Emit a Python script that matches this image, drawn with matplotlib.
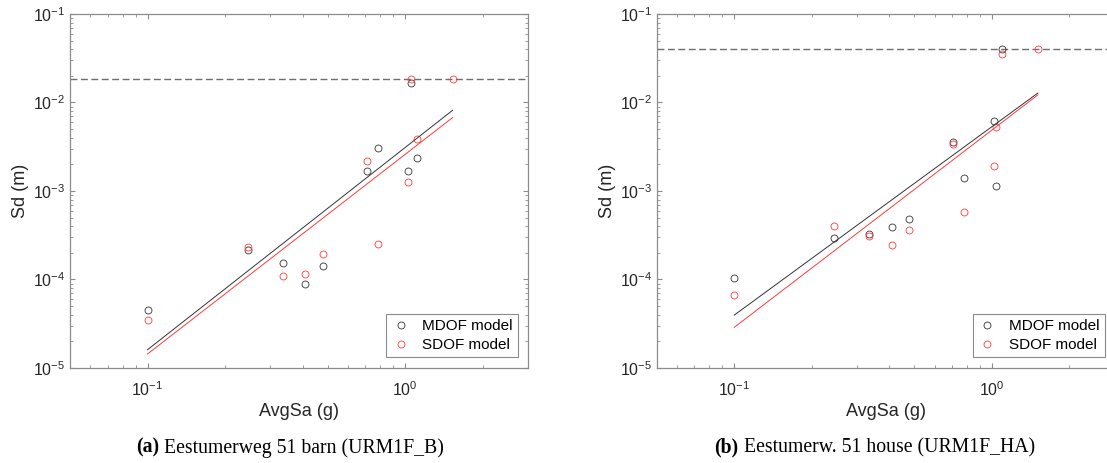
import numpy as np
import matplotlib
matplotlib.use('Agg')
import matplotlib.pyplot as plt
from matplotlib.ticker import LogLocator

plt.rcParams['font.family'] = ['Liberation Sans', 'DejaVu Sans']
plt.rcParams['mathtext.fontset'] = 'custom'
plt.rcParams['mathtext.rm'] = 'Liberation Sans'

# (a) Eestumerweg 51 barn
avgsa_a = [0.1, 0.246, 0.335, 0.41, 0.481, 0.713, 0.785, 1.03, 1.05, 1.11, 1.53]
mdof_a = [4.48e-5, 2.17e-4, 1.53e-4, 8.8e-5, 1.42e-4, 1.67e-3, 3.07e-3, 1.70e-3, 1.65e-2, 2.35e-3, np.nan]
sdof_a = [3.52e-5, 2.32e-4, 1.09e-4, 1.16e-4, 1.92e-4, 2.17e-3, 2.51e-4, 1.27e-3, 1.83e-2, 3.85e-3, 1.83e-2]
collapse_a = 1.83e-2
fit_x_a = [0.1, 1.53]
fit_mdof_a = [1.61e-5, 8.18e-3]
fit_sdof_a = [1.44e-5, 6.76e-3]

# (b) Eestumerw. 51 house
avgsa_b = [0.1, 0.245, 0.334, 0.408, 0.478, 0.706, 0.78, 1.02, 1.04, 1.10, 1.51]
mdof_b = [1.03e-4, 2.98e-4, 3.23e-4, 3.94e-4, 4.85e-4, 3.62e-3, 1.40e-3, 6.14e-3, 1.14e-3, 4.03e-2, np.nan]
sdof_b = [6.6e-5, 4.01e-4, 3.12e-4, 2.45e-4, 3.61e-4, 3.38e-3, 5.77e-4, 1.91e-3, 5.34e-3, 3.56e-2, 4.03e-2]
collapse_b = 4.03e-2
fit_x_b = [0.1, 1.51]
fit_mdof_b = [3.96e-5, 1.28e-2]
fit_sdof_b = [2.88e-5, 1.22e-2]

captions = [('(a)', 'Eestumerweg 51 barn (URM1F_B)'),
            ('(b)', 'Eestumerw. 51 house (URM1F_HA)')]

W, H = 1107, 463
fig = plt.figure(figsize=(W/100, H/100), dpi=100)

box_col = '#8c8c8c'
txt_col = '#262626'
blk = '#333333'
red = '#ff3b3b'


def panel(left, x, mdof, sdof, collapse, fx, fm, fs):
    ax = fig.add_axes([left/W, 95/H, 458/W, 354/H])
    ax.set_xscale('log')
    ax.set_yscale('log')

    ax.axhline(collapse, color='#6e6e6e', lw=1.0, ls=(0, (5, 2.5)))
    ax.plot(x, mdof, 'o', mfc='none', mec=blk, ms=5, mew=0.6, ls='none', label='MDOF model')
    ax.plot(x, sdof, 'o', mfc='none', mec=red, ms=5, mew=0.6, ls='none', label='SDOF model')
    ax.plot(fx, fm, color=blk, lw=0.7)
    ax.plot(fx, fs, color=red, lw=0.7)

    ax.set_xlim(0.05, 3)
    ax.set_ylim(1e-5, 1e-1)
    ax.yaxis.set_major_locator(LogLocator(base=10, numticks=10))
    ax.yaxis.set_minor_locator(LogLocator(base=10, subs=np.arange(2, 10), numticks=20))

    for s in ax.spines.values():
        s.set_color(box_col)
        s.set_linewidth(0.9)
    ax.tick_params(which='both', direction='in', top=True, right=True,
                   color=box_col, labelcolor=txt_col, labelsize=11.5)
    ax.tick_params(which='major', length=3.5, width=0.8)
    ax.tick_params(which='minor', length=2, width=0.6)
    ax.tick_params(axis='x', which='major', pad=9)

    ax.set_xlabel('AvgSa (g)', fontsize=13, color=txt_col)
    ax.set_ylabel('Sd (m)', fontsize=13, color=txt_col)
    ax.xaxis.set_label_coords(0.5, -0.099)
    ax.yaxis.set_label_coords(-0.089, 0.5)

    leg = ax.legend(loc='lower right', bbox_to_anchor=(0.978, 0.03), borderaxespad=0,
                    fontsize=11, fancybox=False, framealpha=1, edgecolor=box_col,
                    handlelength=1.2, handletextpad=0.8, borderpad=0.35, labelspacing=0.3)
    leg.get_frame().set_linewidth(0.8)
    return ax


ax1 = panel(70, avgsa_a, mdof_a, sdof_a, collapse_a, fit_x_a, fit_mdof_a, fit_sdof_a)
ax2 = panel(656.7, avgsa_b, mdof_b, sdof_b, collapse_b, fit_x_b, fit_mdof_b, fit_sdof_b)

# sub captions, bold tag then plain text
for xs, (tag, txt) in zip([135.7, 714.4], captions):
    t = fig.text(xs/W, 1 - 452.7/H, tag, fontsize=14.2, fontweight='bold',
                 family='Liberation Serif', va='baseline', ha='left')
    ax1.annotate(txt, xy=(1, 1 - 452.7/H), xycoords=(t, 'figure fraction'),
                 xytext=(4, 0), textcoords='offset points', fontsize=14.2,
                 family='Liberation Serif', va='baseline', ha='left', annotation_clip=False)

fig.savefig('out.png', dpi=100)
